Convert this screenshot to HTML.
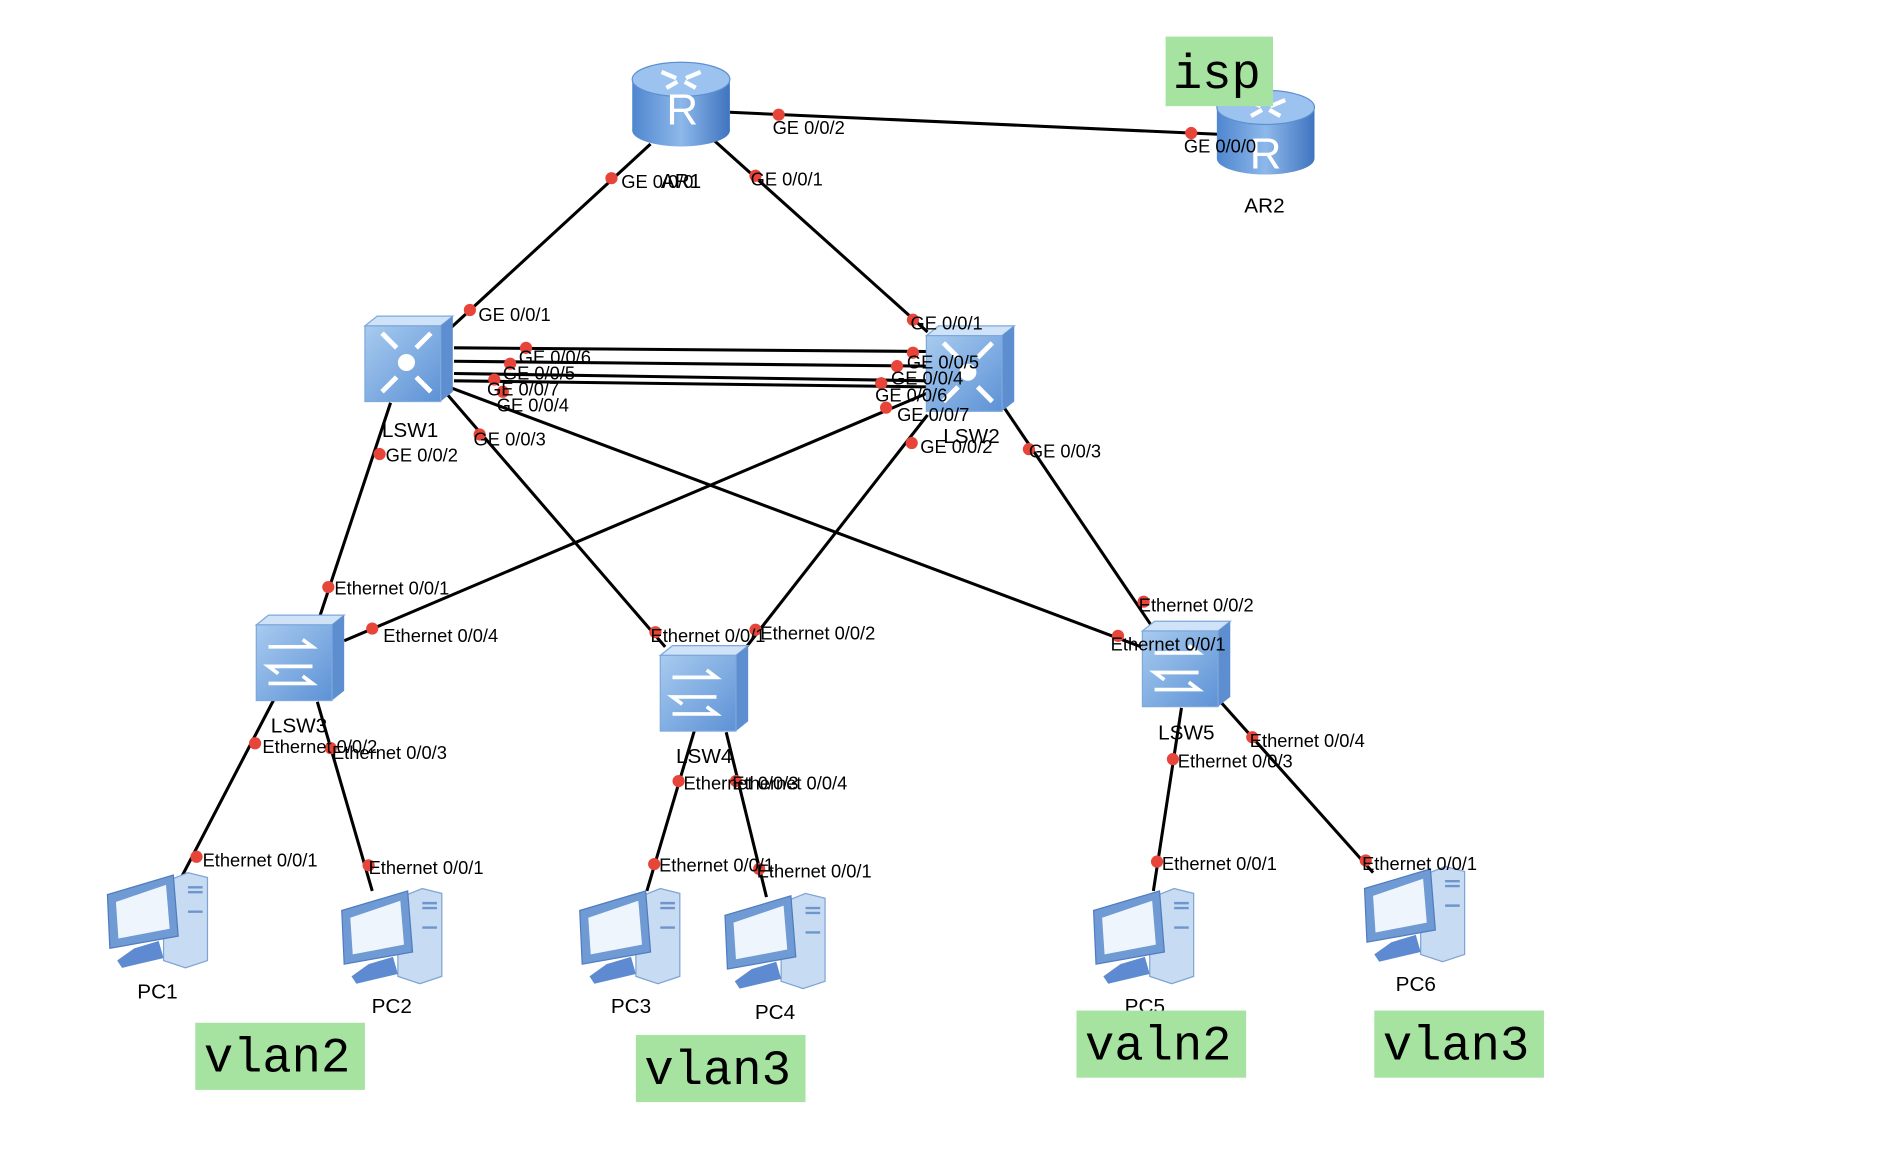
<!DOCTYPE html>
<html><head><meta charset="utf-8"><style>
html,body{margin:0;padding:0;background:#fff;}
svg{display:block;}
text{font-family:"Liberation Sans",sans-serif;}
.l{font-size:15px;fill:#000;}
.n{font-size:17px;fill:#000;}
.g{font-family:"Liberation Mono","DejaVu Sans Mono",monospace;font-size:40px;fill:#000;}
</style></head><body>
<svg width="1904" height="1168" viewBox="0 0 1560 957" preserveAspectRatio="none" xmlns="http://www.w3.org/2000/svg">
<defs>
<linearGradient id="rb" x1="0" x2="1"><stop offset="0" stop-color="#4f86cf"/><stop offset=".5" stop-color="#8db8ea"/><stop offset="1" stop-color="#3f74bf"/></linearGradient>
<linearGradient id="sb" x1="0" y1="0" x2="1" y2="1"><stop offset="0" stop-color="#a8cbef"/><stop offset="1" stop-color="#5d92d6"/></linearGradient>
<g id="router">
<rect x="-40" y="-20" width="80" height="42" fill="url(#rb)"/>
<ellipse cx="0" cy="22" rx="40" ry="13" fill="url(#rb)"/>
<ellipse cx="0" cy="-20" rx="40" ry="14" fill="#9cc3ef" stroke="#5d8fd0"/>
<path d="M-16,-26 l12,5 M16,-26 l-12,5 M-12,-13 l9,-5 M12,-13 l-9,-5" stroke="#fff" stroke-width="3.5"/>
</g>
<g id="switch">
<polygon points="-36,-28 -26,-36 36,-36 26,-28" fill="#cfe2f7" stroke="#7fa8dc"/>
<polygon points="26,-28 36,-36 36,26 26,34" fill="#5d8fd0"/>
<rect x="-36" y="-28" width="62" height="62" fill="url(#sb)" stroke="#7fa8dc"/>
</g>
<g id="arr" stroke="#fff" stroke-width="3" fill="none">
<path d="M-22,-10 h36 l-8,-6 M14,6 h-36 l8,6 M-22,20 h36 l-8,-6"/>
</g>
<g id="star" stroke="#fff" stroke-width="4" fill="none">
<path d="M-22,-22 l12,12 M18,-22 l-12,12 M-22,26 l12,-12 M18,26 l-12,-12"/>
<circle cx="-2" cy="2" r="5" fill="#fff"/>
</g>
<g id="pc">
<polygon points="4,-32 24,-40 40,-36 40,32 22,38 4,32" fill="#c7dbf2" stroke="#7fa3d4"/>
<path d="M24,-28 h12 M24,-24 h12 M24,-8 h12" stroke="#6f96cc" stroke-width="2"/>
<polygon points="-42,-22 12,-38 16,12 -40,22" fill="#6f9ad4" stroke="#4f7cc0"/>
<polygon points="-35,-16 6,-30 9,6 -33,14" fill="#eef5fc"/>
<polygon points="-20,22 0,16 4,30 -30,38 -34,32" fill="#5d8ad0"/>
</g>
</defs>
<g stroke="#000" stroke-width="2.5" fill="none">
<line x1="598" y1="92" x2="998" y2="110"/>
<line x1="533" y1="118" x2="370" y2="268"/>
<line x1="585" y1="115" x2="760" y2="272"/>
<line x1="372" y1="285" x2="760" y2="288"/>
<line x1="372" y1="296" x2="760" y2="300"/>
<line x1="372" y1="306" x2="760" y2="312"/>
<line x1="372" y1="312" x2="760" y2="317"/>
<line x1="320" y1="330" x2="262" y2="505"/>
<line x1="362" y1="318" x2="545" y2="530"/>
<line x1="370" y1="318" x2="935" y2="530"/>
<line x1="760" y1="322" x2="282" y2="525"/>
<line x1="760" y1="340" x2="610" y2="532"/>
<line x1="820" y1="330" x2="945" y2="515"/>
<line x1="225" y1="572" x2="148" y2="720"/>
<line x1="260" y1="575" x2="305" y2="730"/>
<line x1="570" y1="595" x2="530" y2="730"/>
<line x1="595" y1="600" x2="628" y2="735"/>
<line x1="968" y1="580" x2="945" y2="730"/>
<line x1="1000" y1="575" x2="1125" y2="715"/>
</g>
<use href="#router" x="558" y="85"/>
<text x="546" y="102" font-size="36" fill="#fff" font-family="Liberation Sans">R</text>
<use href="#router" x="1037" y="108"/>
<text x="1024" y="138" font-size="36" fill="#fff">R</text>
<use href="#switch" x="335" y="295"/><use href="#star" x="335" y="295"/>
<use href="#switch" x="795" y="303"/><use href="#star" x="795" y="303"/>
<use href="#switch" x="246" y="540"/><use href="#arr" x="242" y="540"/>
<use href="#switch" x="577" y="565"/><use href="#arr" x="573" y="565"/>
<use href="#switch" x="972" y="545"/><use href="#arr" x="968" y="545"/>
<use href="#pc" x="130" y="755"/>
<use href="#pc" x="322" y="768"/>
<use href="#pc" x="517" y="768"/>
<use href="#pc" x="636" y="772"/>
<use href="#pc" x="938" y="768"/>
<use href="#pc" x="1160" y="750"/>
<g fill="#e8453a">
<circle cx="638" cy="94" r="5"/><circle cx="976" cy="109" r="5"/>
<circle cx="501" cy="146" r="5"/><circle cx="385" cy="254" r="5"/>
<circle cx="619" cy="144" r="5"/><circle cx="748" cy="262" r="5"/>
<circle cx="431" cy="285" r="5"/><circle cx="418" cy="298" r="5"/><circle cx="405" cy="311" r="5"/><circle cx="412" cy="321" r="5"/>
<circle cx="748" cy="289" r="5"/><circle cx="735" cy="300" r="5"/><circle cx="722" cy="314" r="5"/><circle cx="726" cy="334" r="5"/>
<circle cx="311" cy="372" r="5"/><circle cx="269" cy="481" r="5"/>
<circle cx="393" cy="356" r="5"/><circle cx="537" cy="518" r="5"/>
<circle cx="916" cy="521" r="5"/><circle cx="305" cy="515" r="5"/>
<circle cx="747" cy="363" r="5"/><circle cx="619" cy="516" r="5"/>
<circle cx="843" cy="368" r="5"/><circle cx="937" cy="493" r="5"/>
<circle cx="209" cy="609" r="5"/><circle cx="161" cy="702" r="5"/>
<circle cx="271" cy="613" r="5"/><circle cx="302" cy="709" r="5"/>
<circle cx="556" cy="640" r="5"/><circle cx="536" cy="708" r="5"/>
<circle cx="603" cy="640" r="5"/><circle cx="622" cy="712" r="5"/>
<circle cx="961" cy="622" r="5"/><circle cx="948" cy="706" r="5"/>
<circle cx="1026" cy="604" r="5"/><circle cx="1119" cy="705" r="5"/>
</g>
<g class="l">
<text x="633" y="110">GE 0/0/2</text>
<text x="970" y="125">GE 0/0/0</text>
<text x="509" y="154">GE 0/0/0</text>
<text x="615" y="152">GE 0/0/1</text>
<text x="392" y="263">GE 0/0/1</text>
<text x="746" y="270">GE 0/0/1</text>
<text x="425" y="298">GE 0/0/6</text>
<text x="412" y="311">GE 0/0/5</text>
<text x="399" y="324">GE 0/0/7</text>
<text x="407" y="337">GE 0/0/4</text>
<text x="743" y="302">GE 0/0/5</text>
<text x="730" y="315">GE 0/0/4</text>
<text x="717" y="329">GE 0/0/6</text>
<text x="735" y="345">GE 0/0/7</text>
<text x="388" y="365">GE 0/0/3</text>
<text x="316" y="378">GE 0/0/2</text>
<text x="754" y="371">GE 0/0/2</text>
<text x="843" y="375">GE 0/0/3</text>
<text x="274" y="487">Ethernet 0/0/1</text>
<text x="314" y="526">Ethernet 0/0/4</text>
<text x="533" y="526">Ethernet 0/0/1</text>
<text x="623" y="524">Ethernet 0/0/2</text>
<text x="933" y="501">Ethernet 0/0/2</text>
<text x="910" y="533">Ethernet 0/0/1</text>
<text x="215" y="617">Ethernet 0/0/2</text>
<text x="272" y="622">Ethernet 0/0/3</text>
<text x="560" y="647">Ethernet 0/0/3</text>
<text x="600" y="647">Ethernet 0/0/4</text>
<text x="965" y="629">Ethernet 0/0/3</text>
<text x="1024" y="612">Ethernet 0/0/4</text>
<text x="166" y="710">Ethernet 0/0/1</text>
<text x="302" y="716">Ethernet 0/0/1</text>
<text x="540" y="714">Ethernet 0/0/1</text>
<text x="620" y="719">Ethernet 0/0/1</text>
<text x="952" y="713">Ethernet 0/0/1</text>
<text x="1116" y="713">Ethernet 0/0/1</text>
</g>
<g class="n" text-anchor="middle">
<text x="558" y="154">AR1</text>
<text x="1036" y="174">AR2</text>
<text x="336" y="358">LSW1</text>
<text x="796" y="363">LSW2</text>
<text x="245" y="600">LSW3</text>
<text x="577" y="625">LSW4</text>
<text x="972" y="606">LSW5</text>
<text x="129" y="818">PC1</text>
<text x="321" y="830">PC2</text>
<text x="517" y="830">PC3</text>
<text x="635" y="835">PC4</text>
<text x="938" y="830">PC5</text>
<text x="1160" y="812">PC6</text>
</g>
<rect x="955" y="30" width="88" height="57" fill="#a6e3a0"/>
<text class="g" x="961" y="72">isp</text>
<rect x="160" y="838" width="139" height="55" fill="#a6e3a0"/>
<text class="g" x="167" y="878">vlan2</text>
<rect x="521" y="848" width="139" height="55" fill="#a6e3a0"/>
<text class="g" x="528" y="888">vlan3</text>
<rect x="882" y="828" width="139" height="55" fill="#a6e3a0"/>
<text class="g" x="889" y="868">valn2</text>
<rect x="1126" y="828" width="139" height="55" fill="#a6e3a0"/>
<text class="g" x="1133" y="868">vlan3</text>
</svg>
</body></html>
